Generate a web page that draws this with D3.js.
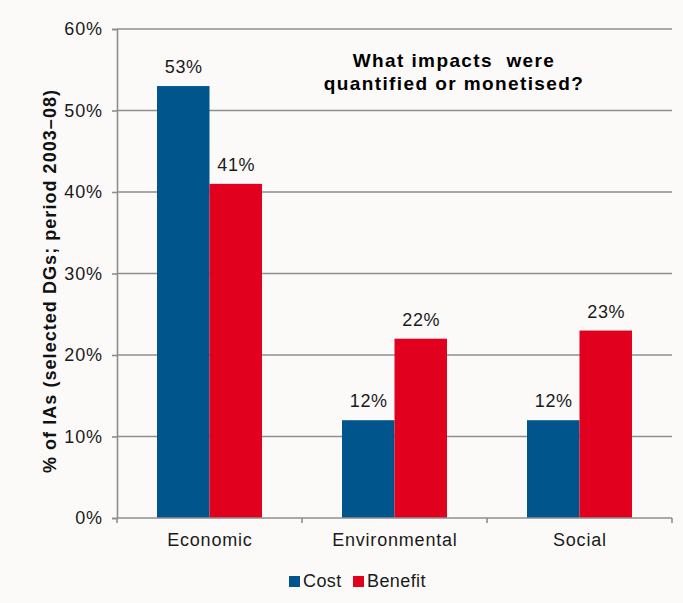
<!DOCTYPE html>
<html>
<head>
<meta charset="utf-8">
<script src="https://cdn.jsdelivr.net/npm/d3@7"></script>
<style>
  body { margin: 0; background: #fbfaf9; }
  svg { display: block; font-family: "Liberation Sans", Arial, sans-serif; }
</style>
</head>
<body>
<div id="chart"></div>
<script>
// data
const categories = ["Economic", "Environmental", "Social"];
const seriesNames = ["Cost", "Benefit"];
const cost = [53, 12, 12];
const benefit = [41, 22, 23];
const yTicks = [0, 10, 20, 30, 40, 50, 60];
const colors = ["#00558c", "#e1001e"];

const width = 683, height = 603;
const margin = { top: 29, right: 11, bottom: 85, left: 117 };
const innerW = width - margin.left - margin.right;
const innerH = height - margin.top - margin.bottom;

const svg = d3.select("#chart")
  .append("svg")
  .attr("width", width)
  .attr("height", height);

svg.append("rect")
  .attr("width", width).attr("height", height)
  .attr("fill", "#fbfaf9");

const g = svg.append("g")
  .attr("transform", `translate(${margin.left}, ${margin.top})`);

// scales
const x0 = d3.scaleBand().domain(categories).range([0, innerW]).paddingInner(0).paddingOuter(0);
const x1 = d3.scaleBand().domain(seriesNames).range([40, x0.bandwidth() - 40]);
const y = d3.scaleLinear().domain([0, 60]).range([innerH, 0]);

// gridlines
g.selectAll("line.grid")
  .data(yTicks.filter(d => d > 0))
  .enter()
  .append("line")
  .attr("x1", 0).attr("x2", innerW)
  .attr("y1", d => y(d)).attr("y2", d => y(d))
  .attr("stroke", "#8e8e8e")
  .attr("stroke-width", 1.6);

// y axis
const yAxis = g.append("g")
  .call(d3.axisLeft(y).tickValues(yTicks).tickFormat(d => d + "%").tickSize(5).tickPadding(9));
yAxis.select(".domain").attr("stroke", "#8e8e8e").attr("stroke-width", 1.6);
yAxis.selectAll(".tick line").attr("stroke", "#8e8e8e").attr("stroke-width", 1.6);
yAxis.selectAll("text").attr("font-size", 18).attr("fill", "#1a1a1a")
  .attr("letter-spacing", 0.9)
  .attr("font-family", "Liberation Sans, Arial, sans-serif");

// bars
const rows = categories.map((c, i) => ({ cat: c, values: [cost[i], benefit[i]] }));
const groups = g.selectAll("g.cat")
  .data(rows)
  .enter()
  .append("g")
  .attr("transform", d => `translate(${x0(d.cat)}, 0)`);

groups.selectAll("rect")
  .data(d => d.values.map((v, j) => ({ key: seriesNames[j], value: v, j })))
  .enter()
  .append("rect")
  .attr("x", d => x1(d.key))
  .attr("y", d => y(d.value))
  .attr("width", x1.bandwidth())
  .attr("height", d => innerH - y(d.value))
  .attr("fill", d => colors[d.j]);

groups.selectAll("text.val")
  .data(d => d.values.map((v, j) => ({ key: seriesNames[j], value: v })))
  .enter()
  .append("text")
  .attr("x", d => x1(d.key) + x1.bandwidth() / 2 + 0.5)
  .attr("y", d => y(d.value) - 13)
  .attr("text-anchor", "middle")
  .attr("font-size", 18)
  .attr("letter-spacing", 0.6)
  .attr("fill", "#1a1a1a")
  .text(d => d.value + "%");

// x axis
const xAxisG = g.append("g")
  .attr("transform", `translate(0, ${innerH})`);
xAxisG.append("line")
  .attr("x1", 0).attr("x2", innerW)
  .attr("stroke", "#8e8e8e").attr("stroke-width", 1.6);
xAxisG.selectAll("line.tick")
  .data(categories.map((c, i) => i).concat([categories.length]))
  .enter()
  .append("line")
  .attr("x1", d => d * x0.step()).attr("x2", d => d * x0.step())
  .attr("y1", 0).attr("y2", 5)
  .attr("stroke", "#8e8e8e").attr("stroke-width", 1.6);
xAxisG.selectAll("text")
  .data(categories)
  .enter()
  .append("text")
  .attr("x", d => x0(d) + x0.bandwidth() / 2 + 0.4)
  .attr("y", 28)
  .attr("text-anchor", "middle")
  .attr("font-size", 18)
  .attr("letter-spacing", 0.8)
  .attr("fill", "#1a1a1a")
  .text(d => d);

// title
const title = svg.append("text")
  .attr("text-anchor", "middle")
  .attr("font-size", 19)
  .attr("font-weight", "bold")
  .attr("letter-spacing", 1.4)
  .attr("fill", "#000");
title.append("tspan").attr("x", 454).attr("y", 67).text("What impacts\u00a0 were");
title.append("tspan").attr("x", 454).attr("y", 90).text("quantified or monetised?");

// y axis title
svg.append("text")
  .attr("transform", "translate(56, 281) rotate(-90)")
  .attr("text-anchor", "middle")
  .attr("font-size", 18)
  .attr("font-weight", "bold")
  .attr("letter-spacing", 1.05)
  .attr("fill", "#111")
  .text("% of IAs (selected DGs; period 2003\u201308)");

// legend
const legend = svg.append("g").attr("transform", "translate(289, 587)");
const legendX = [0, 64];
seriesNames.forEach((s, i) => {
  legend.append("rect")
    .attr("x", legendX[i]).attr("y", -11)
    .attr("width", 11).attr("height", 11)
    .attr("fill", colors[i]);
  legend.append("text")
    .attr("x", legendX[i] + 14).attr("y", 0)
    .attr("font-size", 18)
    .attr("letter-spacing", 0.4)
    .attr("fill", "#1a1a1a")
    .text(s);
});
</script>
</body>
</html>
